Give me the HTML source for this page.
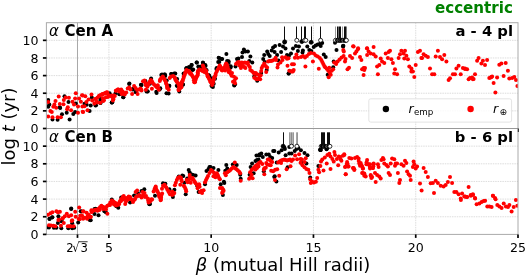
<!DOCTYPE html>
<html><head><meta charset="utf-8"><style>html,body{margin:0;padding:0;background:#fff;overflow:hidden}svg{display:block}</style></head>
<body><div id="w"><svg width="525" height="275" viewBox="0 0 525 275">
<rect width="525" height="275" fill="#fff"/><g>
<g stroke="#d9d9d9" stroke-width="0.9" stroke-dasharray="1.5,0.9"><line x1="108.91" y1="22.70" x2="108.91" y2="128.50"/><line x1="211.18" y1="22.70" x2="211.18" y2="128.50"/><line x1="313.45" y1="22.70" x2="313.45" y2="128.50"/><line x1="415.73" y1="22.70" x2="415.73" y2="128.50"/><line x1="46.40" y1="110.87" x2="518.00" y2="110.87"/><line x1="46.40" y1="93.23" x2="518.00" y2="93.23"/><line x1="46.40" y1="75.60" x2="518.00" y2="75.60"/><line x1="46.40" y1="57.97" x2="518.00" y2="57.97"/><line x1="46.40" y1="40.33" x2="518.00" y2="40.33"/><line x1="108.91" y1="128.50" x2="108.91" y2="234.40"/><line x1="211.18" y1="128.50" x2="211.18" y2="234.40"/><line x1="313.45" y1="128.50" x2="313.45" y2="234.40"/><line x1="415.73" y1="128.50" x2="415.73" y2="234.40"/><line x1="46.40" y1="216.75" x2="518.00" y2="216.75"/><line x1="46.40" y1="199.10" x2="518.00" y2="199.10"/><line x1="46.40" y1="181.45" x2="518.00" y2="181.45"/><line x1="46.40" y1="163.80" x2="518.00" y2="163.80"/><line x1="46.40" y1="146.15" x2="518.00" y2="146.15"/></g>
<line x1="77.49" y1="22.7" x2="77.49" y2="234.4" stroke="#a8a8a8" stroke-width="1"/>
<clipPath id="cA"><rect x="46.4" y="22.7" width="471.6" height="105.8"/></clipPath>
<g clip-path="url(#cA)">
<g fill="#000"><circle cx="64.5" cy="96.3" r="2.0"/><circle cx="48.2" cy="99.9" r="2.0"/><circle cx="68.5" cy="102.1" r="2.0"/><circle cx="49.3" cy="104.6" r="2.0"/><circle cx="75.8" cy="103.5" r="2.0"/><circle cx="48.2" cy="106.8" r="2.0"/><circle cx="59.8" cy="107.2" r="2.0"/><circle cx="60.2" cy="108.1" r="2.0"/><circle cx="66.7" cy="112.8" r="2.0"/><circle cx="62.0" cy="114.3" r="2.0"/><circle cx="73.3" cy="113.9" r="2.0"/><circle cx="75.1" cy="112.1" r="2.0"/><circle cx="52.5" cy="119.4" r="2.0"/><circle cx="57.6" cy="119.7" r="2.0"/><circle cx="69.6" cy="119.4" r="2.0"/><circle cx="91.8" cy="97.6" r="2.0"/><circle cx="84.5" cy="103.8" r="2.0"/><circle cx="109.6" cy="93.3" r="2.0"/><circle cx="115.5" cy="93.3" r="2.0"/><circle cx="111.8" cy="102.4" r="2.0"/><circle cx="100.5" cy="100.5" r="2.0"/><circle cx="100.5" cy="99.1" r="2.0"/><circle cx="89.6" cy="110.9" r="2.0"/><circle cx="95.5" cy="105.5" r="2.0"/><circle cx="90.7" cy="105.5" r="2.0"/><circle cx="86.7" cy="104.7" r="2.0"/><circle cx="100.5" cy="102.9" r="2.0"/><circle cx="111.8" cy="102.5" r="2.0"/><circle cx="119.5" cy="94.3" r="2.0"/><circle cx="123.4" cy="97.3" r="2.0"/><circle cx="129.4" cy="83.4" r="2.0"/><circle cx="132.8" cy="88.9" r="2.0"/><circle cx="135.8" cy="91.9" r="2.0"/><circle cx="141.2" cy="84.9" r="2.0"/><circle cx="147.7" cy="91.4" r="2.0"/><circle cx="149.7" cy="82.5" r="2.0"/><circle cx="151.1" cy="78.5" r="2.0"/><circle cx="156.6" cy="92.9" r="2.0"/><circle cx="159.6" cy="89.4" r="2.0"/><circle cx="166.5" cy="93.3" r="2.0"/><circle cx="162.0" cy="74.4" r="2.0"/><circle cx="165.0" cy="74.4" r="2.0"/><circle cx="168.9" cy="85.8" r="2.0"/><circle cx="171.4" cy="73.9" r="2.0"/><circle cx="175.3" cy="73.4" r="2.0"/><circle cx="176.8" cy="85.8" r="2.0"/><circle cx="182.8" cy="84.8" r="2.0"/><circle cx="183.8" cy="73.9" r="2.0"/><circle cx="186.2" cy="68.4" r="2.0"/><circle cx="190.7" cy="67.9" r="2.0"/><circle cx="191.7" cy="65.0" r="2.0"/><circle cx="193.2" cy="69.4" r="2.0"/><circle cx="196.6" cy="62.5" r="2.0"/><circle cx="198.6" cy="67.0" r="2.0"/><circle cx="201.1" cy="66.5" r="2.0"/><circle cx="203.1" cy="63.0" r="2.0"/><circle cx="205.5" cy="66.0" r="2.0"/><circle cx="206.5" cy="69.9" r="2.0"/><circle cx="208.5" cy="74.9" r="2.0"/><circle cx="211.5" cy="85.8" r="2.0"/><circle cx="205.0" cy="65.6" r="2.0"/><circle cx="212.1" cy="86.3" r="2.0"/><circle cx="216.4" cy="69.1" r="2.0"/><circle cx="218.6" cy="57.7" r="2.0"/><circle cx="221.4" cy="59.1" r="2.0"/><circle cx="219.3" cy="62.0" r="2.0"/><circle cx="226.4" cy="54.1" r="2.0"/><circle cx="228.6" cy="61.3" r="2.0"/><circle cx="230.7" cy="66.3" r="2.0"/><circle cx="234.3" cy="85.6" r="2.0"/><circle cx="343.2" cy="45.8" r="2.0"/><circle cx="343.0" cy="46.4" r="2.0"/><circle cx="288.7" cy="73.6" r="2.0"/><circle cx="288.6" cy="73.6" r="2.0"/><circle cx="168.6" cy="93.4" r="2.0"/><circle cx="169.3" cy="85.9" r="2.0"/><circle cx="179.3" cy="91.6" r="2.0"/><circle cx="182.9" cy="84.4" r="2.0"/><circle cx="195.0" cy="80.9" r="2.0"/><circle cx="212.9" cy="83.7" r="2.0"/><circle cx="212.9" cy="86.9" r="2.0"/><circle cx="215.0" cy="78.7" r="2.0"/><circle cx="234.3" cy="85.1" r="2.0"/><circle cx="96.0" cy="105.3" r="2.0"/><circle cx="100.4" cy="102.8" r="2.0"/><circle cx="100.9" cy="99.8" r="2.0"/><circle cx="109.9" cy="94.9" r="2.0"/><circle cx="112.3" cy="102.3" r="2.0"/><circle cx="119.3" cy="93.9" r="2.0"/><circle cx="123.2" cy="97.3" r="2.0"/><circle cx="129.2" cy="84.0" r="2.0"/><circle cx="132.6" cy="89.4" r="2.0"/><circle cx="135.6" cy="91.9" r="2.0"/><circle cx="141.5" cy="85.0" r="2.0"/><circle cx="146.5" cy="91.4" r="2.0"/><circle cx="141.0" cy="84.8" r="2.0"/><circle cx="145.4" cy="80.9" r="2.0"/><circle cx="147.4" cy="91.2" r="2.0"/><circle cx="149.9" cy="83.8" r="2.0"/><circle cx="156.3" cy="91.7" r="2.0"/><circle cx="160.3" cy="88.3" r="2.0"/><circle cx="161.3" cy="74.9" r="2.0"/><circle cx="164.3" cy="74.4" r="2.0"/><circle cx="165.2" cy="75.9" r="2.0"/><circle cx="166.7" cy="80.4" r="2.0"/><circle cx="169.2" cy="85.8" r="2.0"/><circle cx="171.2" cy="73.9" r="2.0"/><circle cx="174.2" cy="73.4" r="2.0"/><circle cx="177.1" cy="78.9" r="2.0"/><circle cx="178.1" cy="86.8" r="2.0"/><circle cx="182.6" cy="84.3" r="2.0"/><circle cx="183.6" cy="73.4" r="2.0"/><circle cx="186.5" cy="68.0" r="2.0"/><circle cx="189.0" cy="67.0" r="2.0"/><circle cx="191.5" cy="64.9" r="2.0"/><circle cx="190.0" cy="67.4" r="2.0"/><circle cx="192.5" cy="69.9" r="2.0"/><circle cx="196.9" cy="62.5" r="2.0"/><circle cx="198.4" cy="66.4" r="2.0"/><circle cx="202.9" cy="62.5" r="2.0"/><circle cx="205.3" cy="64.9" r="2.0"/><circle cx="200.9" cy="67.4" r="2.0"/><circle cx="206.3" cy="70.4" r="2.0"/><circle cx="209.3" cy="75.8" r="2.0"/><circle cx="211.8" cy="78.3" r="2.0"/><circle cx="213.7" cy="83.7" r="2.0"/><circle cx="216.7" cy="67.9" r="2.0"/><circle cx="218.2" cy="62.0" r="2.0"/><circle cx="219.2" cy="58.0" r="2.0"/><circle cx="222.2" cy="59.0" r="2.0"/><circle cx="227.1" cy="61.0" r="2.0"/><circle cx="228.6" cy="63.0" r="2.0"/><circle cx="230.6" cy="67.4" r="2.0"/><circle cx="343.3" cy="46.0" r="2.0"/><circle cx="243.9" cy="49.4" r="2.0"/><circle cx="242.5" cy="52.4" r="2.0"/><circle cx="245.4" cy="51.4" r="2.0"/><circle cx="247.9" cy="51.4" r="2.0"/><circle cx="242.0" cy="56.9" r="2.0"/><circle cx="250.4" cy="56.4" r="2.0"/><circle cx="264.2" cy="54.9" r="2.0"/><circle cx="267.2" cy="51.4" r="2.0"/><circle cx="268.2" cy="53.9" r="2.0"/><circle cx="269.7" cy="55.9" r="2.0"/><circle cx="271.7" cy="50.4" r="2.0"/><circle cx="273.1" cy="47.4" r="2.0"/><circle cx="275.1" cy="46.0" r="2.0"/><circle cx="274.6" cy="51.9" r="2.0"/><circle cx="277.1" cy="54.9" r="2.0"/><circle cx="279.6" cy="45.0" r="2.0"/><circle cx="281.1" cy="51.9" r="2.0"/><circle cx="283.0" cy="46.5" r="2.0"/><circle cx="285.5" cy="48.4" r="2.0"/><circle cx="284.5" cy="42.5" r="2.0"/><circle cx="287.0" cy="54.9" r="2.0"/><circle cx="293.0" cy="48.4" r="2.0"/><circle cx="295.9" cy="45.9" r="2.0"/><circle cx="298.9" cy="46.4" r="2.0"/><circle cx="297.9" cy="50.9" r="2.0"/><circle cx="302.9" cy="50.4" r="2.0"/><circle cx="307.3" cy="46.4" r="2.0"/><circle cx="309.3" cy="49.9" r="2.0"/><circle cx="311.3" cy="50.9" r="2.0"/><circle cx="313.7" cy="46.9" r="2.0"/><circle cx="315.7" cy="45.4" r="2.0"/><circle cx="317.7" cy="44.5" r="2.0"/><circle cx="319.7" cy="44.0" r="2.0"/><circle cx="322.2" cy="43.0" r="2.0"/><circle cx="320.7" cy="45.9" r="2.0"/><circle cx="291.0" cy="53.4" r="2.0"/><circle cx="289.0" cy="55.8" r="2.0"/><circle cx="336.5" cy="49.9" r="2.0"/><circle cx="335.0" cy="42.8" r="2.0"/><circle cx="323.8" cy="54.5" r="2.0"/><circle cx="325.7" cy="57.0" r="2.0"/><circle cx="333.2" cy="67.3" r="2.0"/><circle cx="327.7" cy="74.8" r="2.0"/><circle cx="333.7" cy="61.4" r="2.0"/><circle cx="302.5" cy="52.5" r="2.0"/><circle cx="237.0" cy="59.0" r="2.0"/><circle cx="238.4" cy="58.5" r="2.0"/><circle cx="249.3" cy="61.0" r="2.0"/><circle cx="252.3" cy="62.5" r="2.0"/><circle cx="235.5" cy="66.4" r="2.0"/><circle cx="263.2" cy="59.0" r="2.0"/><circle cx="264.7" cy="62.0" r="2.0"/><circle cx="266.7" cy="69.9" r="2.0"/><circle cx="261.2" cy="72.9" r="2.0"/><circle cx="254.3" cy="76.3" r="2.0"/><circle cx="257.2" cy="80.8" r="2.0"/><circle cx="278.5" cy="60.5" r="2.0"/><circle cx="235.0" cy="84.2" r="2.0"/></g>
<g fill="#f00"><circle cx="75.8" cy="93.2" r="2.0"/><circle cx="58.7" cy="96.5" r="2.0"/><circle cx="65.6" cy="97.4" r="2.0"/><circle cx="68.9" cy="97.7" r="2.0"/><circle cx="75.1" cy="98.5" r="2.0"/><circle cx="79.1" cy="98.5" r="2.0"/><circle cx="82.0" cy="95.2" r="2.0"/><circle cx="48.2" cy="102.1" r="2.0"/><circle cx="55.5" cy="101.0" r="2.0"/><circle cx="63.8" cy="99.9" r="2.0"/><circle cx="72.5" cy="101.7" r="2.0"/><circle cx="80.9" cy="101.7" r="2.0"/><circle cx="59.8" cy="103.9" r="2.0"/><circle cx="63.5" cy="104.3" r="2.0"/><circle cx="54.4" cy="104.6" r="2.0"/><circle cx="74.0" cy="104.6" r="2.0"/><circle cx="53.3" cy="106.8" r="2.0"/><circle cx="67.8" cy="107.2" r="2.0"/><circle cx="78.0" cy="106.5" r="2.0"/><circle cx="82.4" cy="106.5" r="2.0"/><circle cx="56.2" cy="107.7" r="2.0"/><circle cx="67.1" cy="109.2" r="2.0"/><circle cx="71.1" cy="110.3" r="2.0"/><circle cx="50.4" cy="111.0" r="2.0"/><circle cx="51.8" cy="112.1" r="2.0"/><circle cx="78.0" cy="112.8" r="2.0"/><circle cx="82.7" cy="111.7" r="2.0"/><circle cx="48.2" cy="116.5" r="2.0"/><circle cx="52.5" cy="117.2" r="2.0"/><circle cx="57.6" cy="117.2" r="2.0"/><circle cx="60.9" cy="117.2" r="2.0"/><circle cx="82.7" cy="95.5" r="2.0"/><circle cx="85.3" cy="96.2" r="2.0"/><circle cx="91.5" cy="94.4" r="2.0"/><circle cx="88.5" cy="99.5" r="2.0"/><circle cx="86.4" cy="102.0" r="2.0"/><circle cx="92.2" cy="100.5" r="2.0"/><circle cx="95.1" cy="99.1" r="2.0"/><circle cx="97.6" cy="97.6" r="2.0"/><circle cx="99.5" cy="95.5" r="2.0"/><circle cx="102.4" cy="94.0" r="2.0"/><circle cx="105.3" cy="92.9" r="2.0"/><circle cx="107.1" cy="92.2" r="2.0"/><circle cx="108.9" cy="95.5" r="2.0"/><circle cx="111.8" cy="95.5" r="2.0"/><circle cx="114.0" cy="95.5" r="2.0"/><circle cx="113.3" cy="98.7" r="2.0"/><circle cx="115.8" cy="90.7" r="2.0"/><circle cx="118.4" cy="89.6" r="2.0"/><circle cx="103.5" cy="100.5" r="2.0"/><circle cx="100.2" cy="102.7" r="2.0"/><circle cx="94.4" cy="103.5" r="2.0"/><circle cx="97.3" cy="102.4" r="2.0"/><circle cx="84.5" cy="106.2" r="2.0"/><circle cx="87.5" cy="110.2" r="2.0"/><circle cx="83.1" cy="112.0" r="2.0"/><circle cx="103.1" cy="101.1" r="2.0"/><circle cx="112.9" cy="100.4" r="2.0"/><circle cx="353.1" cy="46.3" r="2.0"/><circle cx="358.1" cy="48.2" r="2.0"/><circle cx="367.0" cy="48.2" r="2.0"/><circle cx="167.1" cy="88.0" r="2.0"/><circle cx="194.3" cy="82.3" r="2.0"/><circle cx="212.1" cy="85.1" r="2.0"/><circle cx="210.7" cy="82.3" r="2.0"/><circle cx="353.6" cy="46.4" r="2.0"/><circle cx="357.9" cy="49.3" r="2.0"/><circle cx="356.4" cy="51.4" r="2.0"/><circle cx="355.0" cy="53.6" r="2.0"/><circle cx="352.1" cy="57.9" r="2.0"/><circle cx="360.0" cy="57.1" r="2.0"/><circle cx="361.4" cy="60.0" r="2.0"/><circle cx="363.6" cy="67.9" r="2.0"/><circle cx="362.1" cy="69.3" r="2.0"/><circle cx="365.0" cy="67.9" r="2.0"/><circle cx="364.3" cy="70.0" r="2.0"/><circle cx="363.6" cy="75.0" r="2.0"/><circle cx="367.1" cy="48.6" r="2.0"/><circle cx="368.6" cy="51.4" r="2.0"/><circle cx="367.1" cy="55.0" r="2.0"/><circle cx="370.7" cy="53.6" r="2.0"/><circle cx="373.6" cy="47.1" r="2.0"/><circle cx="373.6" cy="54.3" r="2.0"/><circle cx="375.7" cy="56.4" r="2.0"/><circle cx="377.9" cy="74.3" r="2.0"/><circle cx="380.7" cy="58.6" r="2.0"/><circle cx="382.1" cy="61.4" r="2.0"/><circle cx="377.1" cy="66.4" r="2.0"/><circle cx="379.3" cy="65.0" r="2.0"/><circle cx="384.3" cy="62.9" r="2.0"/><circle cx="385.7" cy="53.6" r="2.0"/><circle cx="387.9" cy="57.9" r="2.0"/><circle cx="390.0" cy="50.7" r="2.0"/><circle cx="388.6" cy="52.1" r="2.0"/><circle cx="391.4" cy="59.3" r="2.0"/><circle cx="392.9" cy="62.9" r="2.0"/><circle cx="395.0" cy="69.3" r="2.0"/><circle cx="394.3" cy="73.6" r="2.0"/><circle cx="397.1" cy="74.3" r="2.0"/><circle cx="398.6" cy="57.9" r="2.0"/><circle cx="400.0" cy="54.3" r="2.0"/><circle cx="401.4" cy="50.7" r="2.0"/><circle cx="405.0" cy="50.7" r="2.0"/><circle cx="403.6" cy="53.6" r="2.0"/><circle cx="406.4" cy="55.7" r="2.0"/><circle cx="404.3" cy="58.6" r="2.0"/><circle cx="407.9" cy="59.3" r="2.0"/><circle cx="409.3" cy="66.4" r="2.0"/><circle cx="411.4" cy="68.6" r="2.0"/><circle cx="412.9" cy="71.4" r="2.0"/><circle cx="415.7" cy="65.0" r="2.0"/><circle cx="414.3" cy="77.1" r="2.0"/><circle cx="417.9" cy="52.1" r="2.0"/><circle cx="420.0" cy="50.7" r="2.0"/><circle cx="421.4" cy="57.9" r="2.0"/><circle cx="423.6" cy="54.3" r="2.0"/><circle cx="425.7" cy="55.7" r="2.0"/><circle cx="427.9" cy="57.1" r="2.0"/><circle cx="422.1" cy="57.9" r="2.0"/><circle cx="437.9" cy="50.7" r="2.0"/><circle cx="435.7" cy="56.4" r="2.0"/><circle cx="440.0" cy="57.1" r="2.0"/><circle cx="442.1" cy="59.3" r="2.0"/><circle cx="444.3" cy="55.0" r="2.0"/><circle cx="446.4" cy="61.4" r="2.0"/><circle cx="430.0" cy="68.6" r="2.0"/><circle cx="432.1" cy="74.3" r="2.0"/><circle cx="434.3" cy="74.3" r="2.0"/><circle cx="458.6" cy="65.7" r="2.0"/><circle cx="456.4" cy="68.6" r="2.0"/><circle cx="462.9" cy="67.9" r="2.0"/><circle cx="465.0" cy="68.6" r="2.0"/><circle cx="467.1" cy="69.3" r="2.0"/><circle cx="452.9" cy="74.3" r="2.0"/><circle cx="455.0" cy="74.3" r="2.0"/><circle cx="450.0" cy="78.3" r="2.0"/><circle cx="460.7" cy="74.3" r="2.0"/><circle cx="475.0" cy="74.3" r="2.0"/><circle cx="470.0" cy="77.9" r="2.0"/><circle cx="472.1" cy="77.4" r="2.0"/><circle cx="478.6" cy="57.9" r="2.0"/><circle cx="477.1" cy="60.7" r="2.0"/><circle cx="482.9" cy="60.7" r="2.0"/><circle cx="481.4" cy="63.6" r="2.0"/><circle cx="485.0" cy="65.0" r="2.0"/><circle cx="487.1" cy="60.0" r="2.0"/><circle cx="490.7" cy="77.4" r="2.0"/><circle cx="492.1" cy="76.4" r="2.0"/><circle cx="465.0" cy="68.9" r="2.0"/><circle cx="468.6" cy="79.3" r="2.0"/><circle cx="472.9" cy="79.3" r="2.0"/><circle cx="499.3" cy="64.7" r="2.0"/><circle cx="501.4" cy="63.6" r="2.0"/><circle cx="505.7" cy="62.9" r="2.0"/><circle cx="507.9" cy="70.7" r="2.0"/><circle cx="489.3" cy="77.9" r="2.0"/><circle cx="491.4" cy="77.1" r="2.0"/><circle cx="493.6" cy="82.9" r="2.0"/><circle cx="497.1" cy="77.6" r="2.0"/><circle cx="503.6" cy="76.1" r="2.0"/><circle cx="509.3" cy="78.6" r="2.0"/><circle cx="512.1" cy="77.9" r="2.0"/><circle cx="514.3" cy="77.1" r="2.0"/><circle cx="516.0" cy="80.0" r="2.0"/><circle cx="517.4" cy="86.1" r="2.0"/><circle cx="495.4" cy="92.4" r="2.0"/><circle cx="411.4" cy="71.4" r="2.0"/><circle cx="448.6" cy="79.9" r="2.0"/><circle cx="473.6" cy="79.1" r="2.0"/><circle cx="96.0" cy="98.8" r="2.0"/><circle cx="96.5" cy="101.8" r="2.0"/><circle cx="99.0" cy="95.9" r="2.0"/><circle cx="100.9" cy="94.9" r="2.0"/><circle cx="102.4" cy="94.4" r="2.0"/><circle cx="104.4" cy="93.4" r="2.0"/><circle cx="106.4" cy="92.4" r="2.0"/><circle cx="107.4" cy="93.4" r="2.0"/><circle cx="102.9" cy="98.3" r="2.0"/><circle cx="103.9" cy="100.3" r="2.0"/><circle cx="105.9" cy="97.3" r="2.0"/><circle cx="107.9" cy="96.9" r="2.0"/><circle cx="110.3" cy="95.9" r="2.0"/><circle cx="112.3" cy="96.9" r="2.0"/><circle cx="113.3" cy="99.3" r="2.0"/><circle cx="114.8" cy="95.9" r="2.0"/><circle cx="116.3" cy="90.4" r="2.0"/><circle cx="117.8" cy="89.4" r="2.0"/><circle cx="119.3" cy="91.4" r="2.0"/><circle cx="121.2" cy="89.4" r="2.0"/><circle cx="122.7" cy="91.4" r="2.0"/><circle cx="123.7" cy="92.9" r="2.0"/><circle cx="121.7" cy="93.9" r="2.0"/><circle cx="124.7" cy="94.4" r="2.0"/><circle cx="126.2" cy="92.4" r="2.0"/><circle cx="127.7" cy="88.4" r="2.0"/><circle cx="129.2" cy="87.4" r="2.0"/><circle cx="130.6" cy="89.4" r="2.0"/><circle cx="132.1" cy="93.9" r="2.0"/><circle cx="134.1" cy="86.0" r="2.0"/><circle cx="135.6" cy="87.9" r="2.0"/><circle cx="137.1" cy="89.9" r="2.0"/><circle cx="137.6" cy="93.9" r="2.0"/><circle cx="139.1" cy="89.4" r="2.0"/><circle cx="140.5" cy="88.4" r="2.0"/><circle cx="141.5" cy="90.4" r="2.0"/><circle cx="157.8" cy="85.3" r="2.0"/><circle cx="141.0" cy="89.3" r="2.0"/><circle cx="145.9" cy="89.8" r="2.0"/><circle cx="151.9" cy="88.8" r="2.0"/><circle cx="343.3" cy="49.9" r="2.0"/><circle cx="343.8" cy="51.4" r="2.0"/><circle cx="275.6" cy="57.8" r="2.0"/><circle cx="282.1" cy="57.3" r="2.0"/><circle cx="285.5" cy="57.3" r="2.0"/><circle cx="287.0" cy="58.8" r="2.0"/><circle cx="287.5" cy="65.8" r="2.0"/><circle cx="296.4" cy="54.4" r="2.0"/><circle cx="294.9" cy="57.8" r="2.0"/><circle cx="297.9" cy="57.8" r="2.0"/><circle cx="288.5" cy="58.3" r="2.0"/><circle cx="292.0" cy="64.3" r="2.0"/><circle cx="293.9" cy="64.3" r="2.0"/><circle cx="220.7" cy="67.9" r="2.0"/><circle cx="222.2" cy="70.4" r="2.0"/><circle cx="223.6" cy="68.9" r="2.0"/><circle cx="225.6" cy="66.9" r="2.0"/><circle cx="225.1" cy="70.4" r="2.0"/><circle cx="227.6" cy="68.9" r="2.0"/><circle cx="228.6" cy="71.9" r="2.0"/><circle cx="229.6" cy="70.4" r="2.0"/><circle cx="301.0" cy="57.0" r="2.0"/><circle cx="303.0" cy="56.0" r="2.0"/><circle cx="305.0" cy="57.4" r="2.0"/><circle cx="306.9" cy="56.0" r="2.0"/><circle cx="308.9" cy="54.0" r="2.0"/><circle cx="310.9" cy="53.0" r="2.0"/><circle cx="313.9" cy="53.5" r="2.0"/><circle cx="315.8" cy="55.5" r="2.0"/><circle cx="317.8" cy="56.5" r="2.0"/><circle cx="319.8" cy="57.9" r="2.0"/><circle cx="321.3" cy="59.9" r="2.0"/><circle cx="322.3" cy="61.9" r="2.0"/><circle cx="323.3" cy="63.9" r="2.0"/><circle cx="324.3" cy="65.9" r="2.0"/><circle cx="325.2" cy="67.3" r="2.0"/><circle cx="326.7" cy="68.8" r="2.0"/><circle cx="329.2" cy="67.8" r="2.0"/><circle cx="328.2" cy="70.8" r="2.0"/><circle cx="329.7" cy="72.8" r="2.0"/><circle cx="331.7" cy="70.8" r="2.0"/><circle cx="333.2" cy="69.3" r="2.0"/><circle cx="330.7" cy="74.8" r="2.0"/><circle cx="328.7" cy="77.2" r="2.0"/><circle cx="312.9" cy="61.4" r="2.0"/><circle cx="305.4" cy="66.4" r="2.0"/><circle cx="318.8" cy="68.8" r="2.0"/><circle cx="334.2" cy="62.4" r="2.0"/><circle cx="336.1" cy="63.9" r="2.0"/><circle cx="337.6" cy="61.4" r="2.0"/><circle cx="339.6" cy="59.4" r="2.0"/><circle cx="341.6" cy="57.4" r="2.0"/><circle cx="343.6" cy="56.0" r="2.0"/><circle cx="345.5" cy="58.9" r="2.0"/><circle cx="345.0" cy="61.4" r="2.0"/><circle cx="347.5" cy="69.3" r="2.0"/><circle cx="349.0" cy="67.8" r="2.0"/><circle cx="350.0" cy="56.0" r="2.0"/><circle cx="236.0" cy="63.9" r="2.0"/><circle cx="237.4" cy="62.5" r="2.0"/><circle cx="238.9" cy="62.0" r="2.0"/><circle cx="240.4" cy="63.4" r="2.0"/><circle cx="241.9" cy="62.5" r="2.0"/><circle cx="243.4" cy="63.0" r="2.0"/><circle cx="244.9" cy="62.5" r="2.0"/><circle cx="246.4" cy="63.0" r="2.0"/><circle cx="247.8" cy="62.5" r="2.0"/><circle cx="239.4" cy="65.4" r="2.0"/><circle cx="240.9" cy="67.9" r="2.0"/><circle cx="242.4" cy="65.9" r="2.0"/><circle cx="244.4" cy="66.9" r="2.0"/><circle cx="245.4" cy="67.9" r="2.0"/><circle cx="248.3" cy="64.9" r="2.0"/><circle cx="249.8" cy="66.9" r="2.0"/><circle cx="250.3" cy="69.9" r="2.0"/><circle cx="251.8" cy="70.9" r="2.0"/><circle cx="253.3" cy="72.4" r="2.0"/><circle cx="254.3" cy="73.8" r="2.0"/><circle cx="255.8" cy="72.9" r="2.0"/><circle cx="256.8" cy="74.3" r="2.0"/><circle cx="258.2" cy="74.8" r="2.0"/><circle cx="259.7" cy="75.8" r="2.0"/><circle cx="260.7" cy="75.3" r="2.0"/><circle cx="254.3" cy="77.8" r="2.0"/><circle cx="255.8" cy="78.8" r="2.0"/><circle cx="257.2" cy="79.3" r="2.0"/><circle cx="258.7" cy="78.8" r="2.0"/><circle cx="260.2" cy="79.3" r="2.0"/><circle cx="261.2" cy="70.9" r="2.0"/><circle cx="261.7" cy="67.9" r="2.0"/><circle cx="262.7" cy="65.9" r="2.0"/><circle cx="264.2" cy="63.4" r="2.0"/><circle cx="265.7" cy="65.9" r="2.0"/><circle cx="267.1" cy="67.4" r="2.0"/><circle cx="266.2" cy="71.9" r="2.0"/><circle cx="268.1" cy="61.5" r="2.0"/><circle cx="269.6" cy="61.0" r="2.0"/><circle cx="271.1" cy="61.0" r="2.0"/><circle cx="272.6" cy="60.5" r="2.0"/><circle cx="274.6" cy="59.5" r="2.0"/><circle cx="276.1" cy="60.0" r="2.0"/><circle cx="278.0" cy="64.4" r="2.0"/><circle cx="277.5" cy="67.4" r="2.0"/><circle cx="280.5" cy="62.5" r="2.0"/><circle cx="282.5" cy="60.0" r="2.0"/><circle cx="232.0" cy="72.9" r="2.0"/><circle cx="234.0" cy="76.8" r="2.0"/><circle cx="236.0" cy="78.3" r="2.0"/><circle cx="234.5" cy="80.8" r="2.0"/><circle cx="235.0" cy="83.2" r="2.0"/><circle cx="233.0" cy="81.8" r="2.0"/><circle cx="143.0" cy="81.2" r="2.0"/><circle cx="144.5" cy="80.6" r="2.0"/><circle cx="145.3" cy="83.0" r="2.0"/><circle cx="145.9" cy="85.3" r="2.0"/><circle cx="147.4" cy="86.8" r="2.0"/><circle cx="148.4" cy="84.8" r="2.0"/><circle cx="148.8" cy="83.3" r="2.0"/><circle cx="149.4" cy="82.3" r="2.0"/><circle cx="150.3" cy="80.8" r="2.0"/><circle cx="150.9" cy="79.9" r="2.0"/><circle cx="151.7" cy="81.0" r="2.0"/><circle cx="152.4" cy="82.3" r="2.0"/><circle cx="153.9" cy="84.3" r="2.0"/><circle cx="155.3" cy="85.8" r="2.0"/><circle cx="156.8" cy="87.3" r="2.0"/><circle cx="158.3" cy="88.3" r="2.0"/><circle cx="158.8" cy="89.8" r="2.0"/><circle cx="159.8" cy="80.9" r="2.0"/><circle cx="160.2" cy="79.4" r="2.0"/><circle cx="161.3" cy="77.9" r="2.0"/><circle cx="162.8" cy="76.4" r="2.0"/><circle cx="163.2" cy="77.6" r="2.0"/><circle cx="164.3" cy="78.9" r="2.0"/><circle cx="164.7" cy="80.0" r="2.0"/><circle cx="165.7" cy="81.8" r="2.0"/><circle cx="166.1" cy="83.6" r="2.0"/><circle cx="166.7" cy="84.8" r="2.0"/><circle cx="166.9" cy="86.1" r="2.0"/><circle cx="167.7" cy="87.8" r="2.0"/><circle cx="168.7" cy="89.8" r="2.0"/><circle cx="169.7" cy="77.9" r="2.0"/><circle cx="171.2" cy="76.4" r="2.0"/><circle cx="173.2" cy="75.9" r="2.0"/><circle cx="174.7" cy="77.4" r="2.0"/><circle cx="175.3" cy="79.0" r="2.0"/><circle cx="175.6" cy="79.9" r="2.0"/><circle cx="176.4" cy="81.0" r="2.0"/><circle cx="177.1" cy="82.3" r="2.0"/><circle cx="178.2" cy="83.2" r="2.0"/><circle cx="178.6" cy="84.8" r="2.0"/><circle cx="179.1" cy="87.3" r="2.0"/><circle cx="178.6" cy="89.8" r="2.0"/><circle cx="180.6" cy="86.8" r="2.0"/><circle cx="181.4" cy="85.1" r="2.0"/><circle cx="181.6" cy="83.8" r="2.0"/><circle cx="181.8" cy="82.0" r="2.0"/><circle cx="182.6" cy="80.9" r="2.0"/><circle cx="182.9" cy="79.7" r="2.0"/><circle cx="183.6" cy="77.9" r="2.0"/><circle cx="183.8" cy="76.5" r="2.0"/><circle cx="184.6" cy="74.9" r="2.0"/><circle cx="185.2" cy="73.3" r="2.0"/><circle cx="185.5" cy="71.9" r="2.0"/><circle cx="186.5" cy="70.0" r="2.0"/><circle cx="188.5" cy="71.4" r="2.0"/><circle cx="189.5" cy="72.9" r="2.0"/><circle cx="191.0" cy="73.9" r="2.0"/><circle cx="178.6" cy="90.1" r="2.0"/><circle cx="180.0" cy="88.4" r="2.0"/><circle cx="181.4" cy="87.3" r="2.0"/><circle cx="189.0" cy="70.9" r="2.0"/><circle cx="190.5" cy="72.9" r="2.0"/><circle cx="190.9" cy="73.9" r="2.0"/><circle cx="192.0" cy="75.3" r="2.0"/><circle cx="192.8" cy="76.5" r="2.0"/><circle cx="193.4" cy="77.8" r="2.0"/><circle cx="193.9" cy="80.3" r="2.0"/><circle cx="194.9" cy="82.3" r="2.0"/><circle cx="195.3" cy="80.6" r="2.0"/><circle cx="195.9" cy="78.8" r="2.0"/><circle cx="196.4" cy="77.4" r="2.0"/><circle cx="196.9" cy="76.3" r="2.0"/><circle cx="197.6" cy="75.2" r="2.0"/><circle cx="197.9" cy="73.8" r="2.0"/><circle cx="197.7" cy="72.4" r="2.0"/><circle cx="197.9" cy="70.9" r="2.0"/><circle cx="199.4" cy="69.4" r="2.0"/><circle cx="200.9" cy="69.9" r="2.0"/><circle cx="202.4" cy="70.9" r="2.0"/><circle cx="202.9" cy="65.4" r="2.0"/><circle cx="203.4" cy="67.0" r="2.0"/><circle cx="203.8" cy="67.9" r="2.0"/><circle cx="204.2" cy="69.7" r="2.0"/><circle cx="204.3" cy="71.9" r="2.0"/><circle cx="205.3" cy="69.9" r="2.0"/><circle cx="206.2" cy="71.1" r="2.0"/><circle cx="206.3" cy="72.9" r="2.0"/><circle cx="207.3" cy="74.8" r="2.0"/><circle cx="207.7" cy="76.3" r="2.0"/><circle cx="208.3" cy="77.3" r="2.0"/><circle cx="209.3" cy="79.3" r="2.0"/><circle cx="210.3" cy="81.3" r="2.0"/><circle cx="211.8" cy="81.3" r="2.0"/><circle cx="212.8" cy="83.2" r="2.0"/><circle cx="213.0" cy="81.2" r="2.0"/><circle cx="213.7" cy="79.3" r="2.0"/><circle cx="213.8" cy="78.2" r="2.0"/><circle cx="214.7" cy="76.8" r="2.0"/><circle cx="215.4" cy="75.4" r="2.0"/><circle cx="215.7" cy="73.8" r="2.0"/><circle cx="216.7" cy="71.4" r="2.0"/><circle cx="217.7" cy="69.4" r="2.0"/><circle cx="218.8" cy="68.0" r="2.0"/><circle cx="219.2" cy="66.9" r="2.0"/><circle cx="219.7" cy="65.4" r="2.0"/><circle cx="220.4" cy="66.7" r="2.0"/><circle cx="220.7" cy="67.9" r="2.0"/><circle cx="221.7" cy="69.9" r="2.0"/><circle cx="222.7" cy="68.9" r="2.0"/><circle cx="223.6" cy="67.9" r="2.0"/><circle cx="225.1" cy="65.9" r="2.0"/><circle cx="225.7" cy="64.6" r="2.0"/><circle cx="226.1" cy="63.4" r="2.0"/><circle cx="227.1" cy="64.9" r="2.0"/><circle cx="227.6" cy="66.8" r="2.0"/><circle cx="227.6" cy="67.9" r="2.0"/><circle cx="228.6" cy="69.9" r="2.0"/><circle cx="229.6" cy="71.9" r="2.0"/><circle cx="230.6" cy="73.8" r="2.0"/><circle cx="231.6" cy="75.8" r="2.0"/><circle cx="293.7" cy="70.0" r="2.0"/><circle cx="291.6" cy="71.4" r="2.0"/><circle cx="289.3" cy="70.7" r="2.0"/><circle cx="291.1" cy="71.2" r="2.0"/><circle cx="292.9" cy="71.4" r="2.0"/></g>
<line x1="284.5" y1="41.8" x2="284.5" y2="26.5" stroke="#000" stroke-width="0.95"/><line x1="296.5" y1="40.3" x2="296.5" y2="26.5" stroke="#000" stroke-width="0.95"/><line x1="301.5" y1="41.6" x2="301.5" y2="26.5" stroke="#000" stroke-width="0.95"/><line x1="304.5" y1="40.3" x2="304.5" y2="26.5" stroke="#000" stroke-width="0.95"/><line x1="305.5" y1="40.3" x2="305.5" y2="26.5" stroke="#000" stroke-width="0.95"/><line x1="311.5" y1="42.3" x2="311.5" y2="26.5" stroke="#000" stroke-width="0.95"/><line x1="320.5" y1="40.3" x2="320.5" y2="26.5" stroke="#000" stroke-width="0.95"/><line x1="335.5" y1="40.3" x2="335.5" y2="26.5" stroke="#888" stroke-width="0.85"/><line x1="337.5" y1="40.3" x2="337.5" y2="26.5" stroke="#000" stroke-width="0.95"/><line x1="338.5" y1="40.3" x2="338.5" y2="26.5" stroke="#333" stroke-width="0.76"/><line x1="339.5" y1="40.3" x2="339.5" y2="26.5" stroke="#000" stroke-width="0.95"/><line x1="340.5" y1="40.3" x2="340.5" y2="26.5" stroke="#000" stroke-width="0.95"/><line x1="342.5" y1="40.3" x2="342.5" y2="26.5" stroke="#888" stroke-width="0.85"/><line x1="344.5" y1="40.3" x2="344.5" y2="26.5" stroke="#000" stroke-width="0.95"/><line x1="345.5" y1="40.3" x2="345.5" y2="26.5" stroke="#000" stroke-width="0.95"/><line x1="346.3" y1="40.3" x2="346.3" y2="26.5" stroke="#222" stroke-width="0.76"/><circle cx="284.7" cy="41.8" r="2.0" fill="#000" stroke="#000" stroke-width="0.8"/><circle cx="296.8" cy="40.3" r="2.0" fill="#fff" stroke="#000" stroke-width="0.8"/><circle cx="301.8" cy="41.6" r="2.0" fill="#000" stroke="#000" stroke-width="0.8"/><circle cx="304.6" cy="40.3" r="2.0" fill="#fff" stroke="#000" stroke-width="0.8"/><circle cx="305.8" cy="40.3" r="2.0" fill="#fff" stroke="#000" stroke-width="0.8"/><circle cx="311.2" cy="42.3" r="2.0" fill="#000" stroke="#000" stroke-width="0.8"/><circle cx="320.6" cy="40.3" r="2.0" fill="#fff" stroke="#000" stroke-width="0.8"/><circle cx="335.5" cy="40.3" r="2.0" fill="#fff" stroke="#000" stroke-width="0.8"/><circle cx="337.4" cy="40.3" r="2.0" fill="#000" stroke="#000" stroke-width="0.8"/><circle cx="338.6" cy="40.3" r="2.0" fill="#fff" stroke="#000" stroke-width="0.8"/><circle cx="339.6" cy="40.3" r="2.0" fill="#000" stroke="#000" stroke-width="0.8"/><circle cx="340.6" cy="40.3" r="2.0" fill="#fff" stroke="#000" stroke-width="0.8"/><circle cx="341.4" cy="40.3" r="2.0" fill="#000" stroke="#000" stroke-width="0.8"/><circle cx="343.4" cy="40.3" r="2.0" fill="#fff" stroke="#000" stroke-width="0.8"/><circle cx="344.6" cy="40.3" r="2.0" fill="#000" stroke="#000" stroke-width="0.8"/><circle cx="345.8" cy="40.3" r="2.0" fill="#000" stroke="#000" stroke-width="0.8"/><circle cx="346.4" cy="40.3" r="2.0" fill="#fff" stroke="#000" stroke-width="0.8"/>
</g>
<clipPath id="cB"><rect x="46.4" y="128.5" width="471.6" height="105.9"/></clipPath>
<g clip-path="url(#cB)">
<g fill="#000"><circle cx="49.5" cy="218.8" r="2.0"/><circle cx="52.4" cy="217.3" r="2.0"/><circle cx="58.4" cy="216.3" r="2.0"/><circle cx="71.2" cy="208.9" r="2.0"/><circle cx="80.7" cy="211.3" r="2.0"/><circle cx="94.5" cy="208.9" r="2.0"/><circle cx="89.6" cy="219.8" r="2.0"/><circle cx="61.8" cy="221.2" r="2.0"/><circle cx="49.5" cy="218.9" r="2.0"/><circle cx="52.0" cy="217.4" r="2.0"/><circle cx="57.9" cy="222.9" r="2.0"/><circle cx="61.3" cy="220.9" r="2.0"/><circle cx="47.5" cy="227.3" r="2.0"/><circle cx="53.9" cy="227.8" r="2.0"/><circle cx="56.4" cy="227.8" r="2.0"/><circle cx="61.3" cy="228.3" r="2.0"/><circle cx="68.3" cy="228.3" r="2.0"/><circle cx="72.2" cy="228.3" r="2.0"/><circle cx="74.2" cy="227.8" r="2.0"/><circle cx="72.2" cy="223.3" r="2.0"/><circle cx="71.2" cy="208.5" r="2.0"/><circle cx="78.2" cy="222.4" r="2.0"/><circle cx="81.6" cy="211.5" r="2.0"/><circle cx="90.1" cy="219.9" r="2.0"/><circle cx="94.5" cy="213.9" r="2.0"/><circle cx="49.0" cy="227.5" r="2.0"/><circle cx="144.3" cy="189.3" r="2.0"/><circle cx="149.3" cy="204.3" r="2.0"/><circle cx="155.0" cy="195.7" r="2.0"/><circle cx="160.0" cy="195.7" r="2.0"/><circle cx="172.9" cy="197.1" r="2.0"/><circle cx="185.7" cy="194.3" r="2.0"/><circle cx="198.6" cy="192.1" r="2.0"/><circle cx="220.7" cy="184.3" r="2.0"/><circle cx="224.3" cy="182.9" r="2.0"/><circle cx="222.9" cy="195.0" r="2.0"/><circle cx="274.3" cy="177.1" r="2.0"/><circle cx="276.4" cy="181.4" r="2.0"/><circle cx="320.6" cy="149.8" r="2.0"/><circle cx="326.5" cy="149.3" r="2.0"/><circle cx="320.0" cy="149.8" r="2.0"/><circle cx="326.9" cy="148.8" r="2.0"/><circle cx="320.7" cy="150.0" r="2.0"/><circle cx="90.7" cy="220.3" r="2.0"/><circle cx="150.0" cy="203.9" r="2.0"/><circle cx="301.3" cy="162.7" r="2.0"/><circle cx="306.4" cy="163.4" r="2.0"/><circle cx="318.4" cy="165.9" r="2.0"/><circle cx="310.2" cy="177.4" r="2.0"/><circle cx="320.4" cy="150.0" r="2.0"/><circle cx="259.4" cy="154.5" r="2.0"/><circle cx="261.3" cy="153.5" r="2.0"/><circle cx="262.8" cy="156.9" r="2.0"/><circle cx="266.3" cy="154.5" r="2.0"/><circle cx="268.8" cy="154.5" r="2.0"/><circle cx="270.2" cy="156.9" r="2.0"/><circle cx="272.2" cy="157.9" r="2.0"/><circle cx="273.2" cy="151.0" r="2.0"/><circle cx="276.7" cy="162.4" r="2.0"/><circle cx="263.8" cy="171.3" r="2.0"/><circle cx="287.6" cy="167.3" r="2.0"/><circle cx="274.7" cy="176.2" r="2.0"/><circle cx="163.0" cy="183.3" r="2.0"/><circle cx="165.4" cy="183.8" r="2.0"/><circle cx="169.4" cy="189.3" r="2.0"/><circle cx="174.4" cy="189.8" r="2.0"/><circle cx="178.8" cy="176.4" r="2.0"/><circle cx="182.3" cy="175.4" r="2.0"/><circle cx="183.3" cy="175.9" r="2.0"/><circle cx="184.3" cy="182.8" r="2.0"/><circle cx="187.2" cy="178.4" r="2.0"/><circle cx="188.7" cy="170.0" r="2.0"/><circle cx="189.7" cy="172.4" r="2.0"/><circle cx="191.7" cy="174.4" r="2.0"/><circle cx="193.2" cy="174.9" r="2.0"/><circle cx="195.6" cy="175.4" r="2.0"/><circle cx="197.1" cy="185.8" r="2.0"/><circle cx="205.0" cy="184.3" r="2.0"/><circle cx="206.5" cy="170.9" r="2.0"/><circle cx="208.5" cy="169.0" r="2.0"/><circle cx="209.5" cy="167.0" r="2.0"/><circle cx="210.5" cy="166.9" r="2.0"/><circle cx="213.5" cy="167.9" r="2.0"/><circle cx="218.4" cy="169.9" r="2.0"/><circle cx="226.3" cy="164.9" r="2.0"/><circle cx="225.3" cy="170.8" r="2.0"/><circle cx="227.3" cy="168.4" r="2.0"/><circle cx="232.8" cy="164.4" r="2.0"/><circle cx="236.7" cy="164.9" r="2.0"/><circle cx="240.2" cy="174.8" r="2.0"/><circle cx="240.7" cy="178.8" r="2.0"/><circle cx="249.6" cy="174.8" r="2.0"/><circle cx="250.6" cy="166.9" r="2.0"/><circle cx="252.1" cy="163.4" r="2.0"/><circle cx="253.6" cy="173.3" r="2.0"/><circle cx="255.5" cy="160.9" r="2.0"/><circle cx="257.0" cy="160.0" r="2.0"/><circle cx="258.5" cy="159.5" r="2.0"/><circle cx="256.5" cy="155.5" r="2.0"/><circle cx="259.5" cy="155.5" r="2.0"/><circle cx="223.9" cy="181.7" r="2.0"/><circle cx="284.2" cy="147.3" r="2.0"/><circle cx="284.9" cy="149.1" r="2.0"/><circle cx="281.6" cy="150.2" r="2.0"/><circle cx="278.7" cy="152.4" r="2.0"/><circle cx="274.4" cy="150.9" r="2.0"/><circle cx="285.6" cy="155.3" r="2.0"/><circle cx="289.3" cy="153.5" r="2.0"/><circle cx="291.5" cy="153.5" r="2.0"/><circle cx="294.7" cy="150.9" r="2.0"/><circle cx="296.5" cy="149.1" r="2.0"/><circle cx="298.4" cy="148.0" r="2.0"/><circle cx="300.9" cy="150.2" r="2.0"/><circle cx="304.5" cy="153.1" r="2.0"/><circle cx="307.5" cy="155.3" r="2.0"/><circle cx="289.3" cy="146.9" r="2.0"/><circle cx="98.5" cy="215.2" r="2.0"/><circle cx="95.5" cy="208.8" r="2.0"/><circle cx="104.4" cy="211.3" r="2.0"/><circle cx="105.9" cy="212.3" r="2.0"/><circle cx="111.8" cy="199.4" r="2.0"/><circle cx="116.3" cy="206.3" r="2.0"/><circle cx="118.3" cy="207.8" r="2.0"/><circle cx="121.2" cy="197.4" r="2.0"/><circle cx="130.1" cy="202.4" r="2.0"/><circle cx="134.1" cy="195.4" r="2.0"/><circle cx="138.1" cy="193.5" r="2.0"/><circle cx="141.5" cy="191.0" r="2.0"/></g>
<g fill="#f00"><circle cx="48.0" cy="214.8" r="2.0"/><circle cx="50.5" cy="213.3" r="2.0"/><circle cx="52.4" cy="212.3" r="2.0"/><circle cx="56.4" cy="211.3" r="2.0"/><circle cx="59.9" cy="211.8" r="2.0"/><circle cx="57.9" cy="212.3" r="2.0"/><circle cx="58.9" cy="219.8" r="2.0"/><circle cx="62.8" cy="218.3" r="2.0"/><circle cx="64.8" cy="216.3" r="2.0"/><circle cx="66.8" cy="213.8" r="2.0"/><circle cx="68.8" cy="216.3" r="2.0"/><circle cx="71.2" cy="215.3" r="2.0"/><circle cx="72.2" cy="220.2" r="2.0"/><circle cx="75.2" cy="211.8" r="2.0"/><circle cx="75.7" cy="216.8" r="2.0"/><circle cx="79.2" cy="207.4" r="2.0"/><circle cx="80.2" cy="215.8" r="2.0"/><circle cx="79.7" cy="219.3" r="2.0"/><circle cx="83.1" cy="211.3" r="2.0"/><circle cx="82.1" cy="215.8" r="2.0"/><circle cx="84.6" cy="217.8" r="2.0"/><circle cx="86.6" cy="212.8" r="2.0"/><circle cx="88.6" cy="214.8" r="2.0"/><circle cx="90.6" cy="216.8" r="2.0"/><circle cx="92.0" cy="211.8" r="2.0"/><circle cx="94.5" cy="210.3" r="2.0"/><circle cx="83.1" cy="218.8" r="2.0"/><circle cx="87.1" cy="218.8" r="2.0"/><circle cx="58.4" cy="219.9" r="2.0"/><circle cx="62.3" cy="218.4" r="2.0"/><circle cx="63.8" cy="222.9" r="2.0"/><circle cx="71.7" cy="220.9" r="2.0"/><circle cx="78.7" cy="218.9" r="2.0"/><circle cx="81.1" cy="215.4" r="2.0"/><circle cx="83.6" cy="211.5" r="2.0"/><circle cx="87.6" cy="215.9" r="2.0"/><circle cx="90.1" cy="216.9" r="2.0"/><circle cx="91.5" cy="212.0" r="2.0"/><circle cx="49.0" cy="225.3" r="2.0"/><circle cx="53.4" cy="225.8" r="2.0"/><circle cx="55.4" cy="226.3" r="2.0"/><circle cx="60.9" cy="225.8" r="2.0"/><circle cx="67.8" cy="226.3" r="2.0"/><circle cx="70.8" cy="226.3" r="2.0"/><circle cx="73.7" cy="226.3" r="2.0"/><circle cx="51.0" cy="225.5" r="2.0"/><circle cx="69.3" cy="226.3" r="2.0"/><circle cx="275.0" cy="180.0" r="2.0"/><circle cx="344.2" cy="154.2" r="2.0"/><circle cx="90.7" cy="216.7" r="2.0"/><circle cx="91.4" cy="210.3" r="2.0"/><circle cx="94.3" cy="210.3" r="2.0"/><circle cx="148.6" cy="202.4" r="2.0"/><circle cx="152.1" cy="199.6" r="2.0"/><circle cx="160.7" cy="200.3" r="2.0"/><circle cx="345.7" cy="174.3" r="2.0"/><circle cx="345.0" cy="167.1" r="2.0"/><circle cx="347.9" cy="166.4" r="2.0"/><circle cx="352.9" cy="167.9" r="2.0"/><circle cx="354.3" cy="169.3" r="2.0"/><circle cx="360.0" cy="165.7" r="2.0"/><circle cx="362.9" cy="168.6" r="2.0"/><circle cx="362.9" cy="172.9" r="2.0"/><circle cx="364.3" cy="175.7" r="2.0"/><circle cx="370.0" cy="164.3" r="2.0"/><circle cx="373.6" cy="163.6" r="2.0"/><circle cx="372.9" cy="167.9" r="2.0"/><circle cx="370.7" cy="175.7" r="2.0"/><circle cx="371.4" cy="177.9" r="2.0"/><circle cx="375.0" cy="172.9" r="2.0"/><circle cx="377.1" cy="175.0" r="2.0"/><circle cx="379.3" cy="176.4" r="2.0"/><circle cx="380.7" cy="178.6" r="2.0"/><circle cx="375.7" cy="182.1" r="2.0"/><circle cx="377.9" cy="164.3" r="2.0"/><circle cx="378.6" cy="167.1" r="2.0"/><circle cx="381.4" cy="160.0" r="2.0"/><circle cx="382.9" cy="157.9" r="2.0"/><circle cx="383.6" cy="159.3" r="2.0"/><circle cx="384.3" cy="163.6" r="2.0"/><circle cx="386.4" cy="165.0" r="2.0"/><circle cx="387.9" cy="166.4" r="2.0"/><circle cx="390.7" cy="163.6" r="2.0"/><circle cx="392.1" cy="158.6" r="2.0"/><circle cx="394.3" cy="159.3" r="2.0"/><circle cx="395.7" cy="163.6" r="2.0"/><circle cx="395.0" cy="165.7" r="2.0"/><circle cx="397.1" cy="163.6" r="2.0"/><circle cx="388.6" cy="172.9" r="2.0"/><circle cx="390.0" cy="175.0" r="2.0"/><circle cx="397.9" cy="172.9" r="2.0"/><circle cx="400.0" cy="180.0" r="2.0"/><circle cx="399.3" cy="182.9" r="2.0"/><circle cx="401.4" cy="164.3" r="2.0"/><circle cx="403.6" cy="165.7" r="2.0"/><circle cx="405.0" cy="160.7" r="2.0"/><circle cx="406.4" cy="162.9" r="2.0"/><circle cx="407.1" cy="171.4" r="2.0"/><circle cx="408.6" cy="174.3" r="2.0"/><circle cx="410.0" cy="175.7" r="2.0"/><circle cx="410.7" cy="180.0" r="2.0"/><circle cx="413.6" cy="161.4" r="2.0"/><circle cx="414.3" cy="164.3" r="2.0"/><circle cx="412.9" cy="167.1" r="2.0"/><circle cx="415.7" cy="168.6" r="2.0"/><circle cx="417.1" cy="166.4" r="2.0"/><circle cx="423.6" cy="167.9" r="2.0"/><circle cx="425.7" cy="172.1" r="2.0"/><circle cx="427.9" cy="177.1" r="2.0"/><circle cx="420.0" cy="183.6" r="2.0"/><circle cx="430.7" cy="183.3" r="2.0"/><circle cx="432.9" cy="182.9" r="2.0"/><circle cx="435.7" cy="180.7" r="2.0"/><circle cx="437.9" cy="182.9" r="2.0"/><circle cx="440.7" cy="185.7" r="2.0"/><circle cx="443.6" cy="186.4" r="2.0"/><circle cx="445.7" cy="185.0" r="2.0"/><circle cx="447.9" cy="182.1" r="2.0"/><circle cx="450.0" cy="177.1" r="2.0"/><circle cx="452.1" cy="182.9" r="2.0"/><circle cx="454.3" cy="192.1" r="2.0"/><circle cx="456.4" cy="192.1" r="2.0"/><circle cx="458.6" cy="194.3" r="2.0"/><circle cx="462.1" cy="193.6" r="2.0"/><circle cx="464.3" cy="196.4" r="2.0"/><circle cx="466.4" cy="197.1" r="2.0"/><circle cx="468.6" cy="187.1" r="2.0"/><circle cx="470.7" cy="195.0" r="2.0"/><circle cx="472.9" cy="194.3" r="2.0"/><circle cx="475.0" cy="197.9" r="2.0"/><circle cx="460.7" cy="198.6" r="2.0"/><circle cx="492.9" cy="195.7" r="2.0"/><circle cx="495.0" cy="197.9" r="2.0"/><circle cx="460.9" cy="200.0" r="2.0"/><circle cx="465.1" cy="196.4" r="2.0"/><circle cx="467.3" cy="197.1" r="2.0"/><circle cx="470.9" cy="195.7" r="2.0"/><circle cx="473.0" cy="195.0" r="2.0"/><circle cx="475.1" cy="198.6" r="2.0"/><circle cx="476.6" cy="204.3" r="2.0"/><circle cx="479.4" cy="203.6" r="2.0"/><circle cx="481.6" cy="202.1" r="2.0"/><circle cx="483.7" cy="201.1" r="2.0"/><circle cx="485.1" cy="200.7" r="2.0"/><circle cx="487.3" cy="206.4" r="2.0"/><circle cx="489.4" cy="206.4" r="2.0"/><circle cx="491.6" cy="206.9" r="2.0"/><circle cx="493.0" cy="195.7" r="2.0"/><circle cx="495.6" cy="199.3" r="2.0"/><circle cx="497.3" cy="205.0" r="2.0"/><circle cx="499.4" cy="206.4" r="2.0"/><circle cx="501.6" cy="207.9" r="2.0"/><circle cx="503.7" cy="203.6" r="2.0"/><circle cx="505.9" cy="206.4" r="2.0"/><circle cx="508.0" cy="207.1" r="2.0"/><circle cx="509.4" cy="205.0" r="2.0"/><circle cx="511.6" cy="211.4" r="2.0"/><circle cx="513.7" cy="207.1" r="2.0"/><circle cx="515.9" cy="200.0" r="2.0"/><circle cx="517.3" cy="205.7" r="2.0"/><circle cx="300.6" cy="158.9" r="2.0"/><circle cx="301.9" cy="159.5" r="2.0"/><circle cx="300.6" cy="162.7" r="2.0"/><circle cx="302.5" cy="165.3" r="2.0"/><circle cx="304.5" cy="167.2" r="2.0"/><circle cx="306.4" cy="169.1" r="2.0"/><circle cx="308.3" cy="169.7" r="2.0"/><circle cx="309.5" cy="172.9" r="2.0"/><circle cx="305.7" cy="158.3" r="2.0"/><circle cx="304.5" cy="162.1" r="2.0"/><circle cx="310.2" cy="179.3" r="2.0"/><circle cx="312.1" cy="181.8" r="2.0"/><circle cx="314.0" cy="182.4" r="2.0"/><circle cx="315.9" cy="181.8" r="2.0"/><circle cx="317.2" cy="178.0" r="2.0"/><circle cx="310.8" cy="183.1" r="2.0"/><circle cx="318.4" cy="169.7" r="2.0"/><circle cx="319.1" cy="172.3" r="2.0"/><circle cx="320.4" cy="165.9" r="2.0"/><circle cx="321.0" cy="161.5" r="2.0"/><circle cx="323.5" cy="170.4" r="2.0"/><circle cx="322.3" cy="159.5" r="2.0"/><circle cx="324.8" cy="157.6" r="2.0"/><circle cx="326.7" cy="163.4" r="2.0"/><circle cx="327.4" cy="155.1" r="2.0"/><circle cx="329.3" cy="153.8" r="2.0"/><circle cx="330.5" cy="156.4" r="2.0"/><circle cx="330.5" cy="169.1" r="2.0"/><circle cx="332.4" cy="158.9" r="2.0"/><circle cx="334.4" cy="151.9" r="2.0"/><circle cx="335.0" cy="155.1" r="2.0"/><circle cx="333.7" cy="161.5" r="2.0"/><circle cx="336.9" cy="158.9" r="2.0"/><circle cx="338.2" cy="165.3" r="2.0"/><circle cx="338.8" cy="156.4" r="2.0"/><circle cx="262.3" cy="163.9" r="2.0"/><circle cx="264.3" cy="168.3" r="2.0"/><circle cx="265.8" cy="167.8" r="2.0"/><circle cx="263.8" cy="169.8" r="2.0"/><circle cx="264.3" cy="174.3" r="2.0"/><circle cx="266.3" cy="162.9" r="2.0"/><circle cx="267.8" cy="159.4" r="2.0"/><circle cx="269.3" cy="159.4" r="2.0"/><circle cx="270.7" cy="160.9" r="2.0"/><circle cx="272.2" cy="161.9" r="2.0"/><circle cx="267.3" cy="164.4" r="2.0"/><circle cx="269.3" cy="164.9" r="2.0"/><circle cx="270.7" cy="165.3" r="2.0"/><circle cx="271.2" cy="170.8" r="2.0"/><circle cx="273.2" cy="171.3" r="2.0"/><circle cx="275.2" cy="169.8" r="2.0"/><circle cx="277.2" cy="169.3" r="2.0"/><circle cx="278.2" cy="162.4" r="2.0"/><circle cx="279.7" cy="161.4" r="2.0"/><circle cx="281.1" cy="160.4" r="2.0"/><circle cx="282.6" cy="159.9" r="2.0"/><circle cx="284.1" cy="159.4" r="2.0"/><circle cx="285.6" cy="159.9" r="2.0"/><circle cx="287.1" cy="160.4" r="2.0"/><circle cx="288.6" cy="159.9" r="2.0"/><circle cx="290.0" cy="159.4" r="2.0"/><circle cx="291.5" cy="160.9" r="2.0"/><circle cx="293.0" cy="159.4" r="2.0"/><circle cx="281.1" cy="162.9" r="2.0"/><circle cx="286.6" cy="169.3" r="2.0"/><circle cx="290.5" cy="166.3" r="2.0"/><circle cx="279.2" cy="175.7" r="2.0"/><circle cx="163.0" cy="185.8" r="2.0"/><circle cx="164.5" cy="184.8" r="2.0"/><circle cx="165.4" cy="186.3" r="2.0"/><circle cx="166.4" cy="187.8" r="2.0"/><circle cx="167.4" cy="189.8" r="2.0"/><circle cx="168.9" cy="191.2" r="2.0"/><circle cx="162.0" cy="188.8" r="2.0"/><circle cx="172.4" cy="191.7" r="2.0"/><circle cx="174.9" cy="185.3" r="2.0"/><circle cx="175.8" cy="182.8" r="2.0"/><circle cx="176.8" cy="179.9" r="2.0"/><circle cx="177.8" cy="177.9" r="2.0"/><circle cx="179.3" cy="176.9" r="2.0"/><circle cx="180.8" cy="177.4" r="2.0"/><circle cx="181.3" cy="179.4" r="2.0"/><circle cx="180.3" cy="184.8" r="2.0"/><circle cx="181.8" cy="181.3" r="2.0"/><circle cx="183.8" cy="185.8" r="2.0"/><circle cx="184.8" cy="187.3" r="2.0"/><circle cx="185.7" cy="189.3" r="2.0"/><circle cx="186.2" cy="191.2" r="2.0"/><circle cx="186.7" cy="179.9" r="2.0"/><circle cx="187.7" cy="182.3" r="2.0"/><circle cx="188.7" cy="179.9" r="2.0"/><circle cx="189.7" cy="176.9" r="2.0"/><circle cx="189.7" cy="174.9" r="2.0"/><circle cx="190.7" cy="182.8" r="2.0"/><circle cx="191.7" cy="178.9" r="2.0"/><circle cx="192.7" cy="177.9" r="2.0"/><circle cx="193.7" cy="179.9" r="2.0"/><circle cx="194.7" cy="181.8" r="2.0"/><circle cx="195.6" cy="183.3" r="2.0"/><circle cx="197.1" cy="184.8" r="2.0"/><circle cx="198.1" cy="185.8" r="2.0"/><circle cx="197.6" cy="188.3" r="2.0"/><circle cx="199.1" cy="184.3" r="2.0"/><circle cx="199.6" cy="186.8" r="2.0"/><circle cx="201.6" cy="190.7" r="2.0"/><circle cx="203.6" cy="190.2" r="2.0"/><circle cx="205.0" cy="182.3" r="2.0"/><circle cx="206.0" cy="179.9" r="2.0"/><circle cx="207.0" cy="177.9" r="2.0"/><circle cx="208.0" cy="175.9" r="2.0"/><circle cx="209.5" cy="172.9" r="2.0"/><circle cx="211.0" cy="169.9" r="2.0"/><circle cx="212.5" cy="171.3" r="2.0"/><circle cx="214.0" cy="172.8" r="2.0"/><circle cx="215.0" cy="174.8" r="2.0"/><circle cx="213.5" cy="176.3" r="2.0"/><circle cx="215.4" cy="177.3" r="2.0"/><circle cx="216.9" cy="173.3" r="2.0"/><circle cx="217.9" cy="175.3" r="2.0"/><circle cx="218.9" cy="177.8" r="2.0"/><circle cx="219.9" cy="179.3" r="2.0"/><circle cx="224.9" cy="173.3" r="2.0"/><circle cx="225.8" cy="175.3" r="2.0"/><circle cx="227.3" cy="172.3" r="2.0"/><circle cx="228.8" cy="171.3" r="2.0"/><circle cx="230.3" cy="169.9" r="2.0"/><circle cx="231.8" cy="168.4" r="2.0"/><circle cx="233.3" cy="166.9" r="2.0"/><circle cx="234.8" cy="162.4" r="2.0"/><circle cx="234.8" cy="167.9" r="2.0"/><circle cx="236.2" cy="168.9" r="2.0"/><circle cx="237.7" cy="170.3" r="2.0"/><circle cx="239.2" cy="171.8" r="2.0"/><circle cx="240.2" cy="173.3" r="2.0"/><circle cx="240.7" cy="180.7" r="2.0"/><circle cx="249.1" cy="178.8" r="2.0"/><circle cx="250.6" cy="177.3" r="2.0"/><circle cx="252.6" cy="178.3" r="2.0"/><circle cx="250.1" cy="172.3" r="2.0"/><circle cx="251.6" cy="169.9" r="2.0"/><circle cx="253.1" cy="168.4" r="2.0"/><circle cx="254.6" cy="166.9" r="2.0"/><circle cx="256.0" cy="165.4" r="2.0"/><circle cx="257.5" cy="164.4" r="2.0"/><circle cx="259.0" cy="162.9" r="2.0"/><circle cx="260.5" cy="161.9" r="2.0"/><circle cx="255.5" cy="169.4" r="2.0"/><circle cx="257.0" cy="167.9" r="2.0"/><circle cx="258.5" cy="166.4" r="2.0"/><circle cx="251.6" cy="174.8" r="2.0"/><circle cx="295.1" cy="155.6" r="2.0"/><circle cx="299.1" cy="154.2" r="2.0"/><circle cx="421.6" cy="190.4" r="2.0"/><circle cx="434.0" cy="193.0" r="2.0"/><circle cx="96.0" cy="209.8" r="2.0"/><circle cx="97.5" cy="210.8" r="2.0"/><circle cx="98.5" cy="208.8" r="2.0"/><circle cx="100.0" cy="207.3" r="2.0"/><circle cx="101.4" cy="205.8" r="2.0"/><circle cx="102.9" cy="206.8" r="2.0"/><circle cx="104.4" cy="207.8" r="2.0"/><circle cx="105.9" cy="207.3" r="2.0"/><circle cx="107.4" cy="205.8" r="2.0"/><circle cx="108.9" cy="204.9" r="2.0"/><circle cx="110.3" cy="202.4" r="2.0"/><circle cx="111.8" cy="200.4" r="2.0"/><circle cx="113.3" cy="201.4" r="2.0"/><circle cx="114.8" cy="202.4" r="2.0"/><circle cx="116.3" cy="203.4" r="2.0"/><circle cx="117.8" cy="204.9" r="2.0"/><circle cx="119.3" cy="203.9" r="2.0"/><circle cx="120.2" cy="200.9" r="2.0"/><circle cx="121.2" cy="198.9" r="2.0"/><circle cx="122.7" cy="196.9" r="2.0"/><circle cx="123.7" cy="195.9" r="2.0"/><circle cx="125.2" cy="197.9" r="2.0"/><circle cx="126.2" cy="199.9" r="2.0"/><circle cx="125.2" cy="203.9" r="2.0"/><circle cx="127.2" cy="197.9" r="2.0"/><circle cx="128.7" cy="196.4" r="2.0"/><circle cx="130.1" cy="196.9" r="2.0"/><circle cx="131.1" cy="198.9" r="2.0"/><circle cx="132.6" cy="200.4" r="2.0"/><circle cx="134.1" cy="199.9" r="2.0"/><circle cx="135.1" cy="198.9" r="2.0"/><circle cx="135.6" cy="192.0" r="2.0"/><circle cx="137.1" cy="190.5" r="2.0"/><circle cx="139.1" cy="195.0" r="2.0"/><circle cx="140.5" cy="195.9" r="2.0"/><circle cx="141.5" cy="197.4" r="2.0"/><circle cx="142.5" cy="192.0" r="2.0"/><circle cx="144.5" cy="193.0" r="2.0"/><circle cx="146.0" cy="195.9" r="2.0"/><circle cx="107.4" cy="213.8" r="2.0"/><circle cx="112.0" cy="203.0" r="2.0"/><circle cx="114.0" cy="204.5" r="2.0"/><circle cx="116.0" cy="205.5" r="2.0"/><circle cx="110.0" cy="205.0" r="2.0"/><circle cx="119.5" cy="202.0" r="2.0"/><circle cx="121.0" cy="201.0" r="2.0"/><circle cx="123.0" cy="199.5" r="2.0"/><circle cx="126.0" cy="201.5" r="2.0"/><circle cx="128.0" cy="199.5" r="2.0"/><circle cx="130.0" cy="199.0" r="2.0"/><circle cx="133.0" cy="202.0" r="2.0"/><circle cx="136.0" cy="197.0" r="2.0"/><circle cx="138.0" cy="196.0" r="2.0"/><circle cx="143.0" cy="195.5" r="2.0"/><circle cx="145.0" cy="197.0" r="2.0"/><circle cx="99.5" cy="210.0" r="2.0"/><circle cx="103.0" cy="209.0" r="2.0"/><circle cx="106.0" cy="209.5" r="2.0"/><circle cx="147.9" cy="198.6" r="2.0"/><circle cx="148.2" cy="200.5" r="2.0"/><circle cx="149.3" cy="202.1" r="2.0"/><circle cx="150.5" cy="201.1" r="2.0"/><circle cx="151.4" cy="199.3" r="2.0"/><circle cx="153.6" cy="191.4" r="2.0"/><circle cx="154.6" cy="189.6" r="2.0"/><circle cx="154.9" cy="188.2" r="2.0"/><circle cx="155.7" cy="186.4" r="2.0"/><circle cx="156.0" cy="188.5" r="2.0"/><circle cx="157.1" cy="190.7" r="2.0"/><circle cx="157.6" cy="191.8" r="2.0"/><circle cx="158.6" cy="193.6" r="2.0"/><circle cx="158.9" cy="195.7" r="2.0"/><circle cx="159.7" cy="197.2" r="2.0"/><circle cx="160.7" cy="199.3" r="2.0"/><circle cx="161.1" cy="197.7" r="2.0"/><circle cx="161.3" cy="195.5" r="2.0"/><circle cx="162.1" cy="193.6" r="2.0"/><circle cx="168.6" cy="192.1" r="2.0"/><circle cx="170.0" cy="194.3" r="2.0"/><circle cx="172.1" cy="195.0" r="2.0"/><circle cx="173.2" cy="194.3" r="2.0"/><circle cx="174.3" cy="192.9" r="2.0"/><circle cx="200.0" cy="192.1" r="2.0"/><circle cx="202.1" cy="192.9" r="2.0"/><circle cx="220.0" cy="187.9" r="2.0"/><circle cx="222.1" cy="187.9" r="2.0"/><circle cx="223.1" cy="189.6" r="2.0"/><circle cx="223.6" cy="190.7" r="2.0"/><circle cx="222.7" cy="191.7" r="2.0"/><circle cx="222.1" cy="192.9" r="2.0"/><circle cx="297.1" cy="159.3" r="2.0"/><circle cx="340.0" cy="157.1" r="2.0"/><circle cx="340.6" cy="159.2" r="2.0"/><circle cx="341.4" cy="160.7" r="2.0"/><circle cx="342.9" cy="155.7" r="2.0"/><circle cx="344.3" cy="155.0" r="2.0"/><circle cx="345.7" cy="166.4" r="2.0"/><circle cx="346.8" cy="164.0" r="2.0"/><circle cx="347.1" cy="162.1" r="2.0"/><circle cx="347.6" cy="164.0" r="2.0"/><circle cx="348.6" cy="166.4" r="2.0"/><circle cx="345.7" cy="174.3" r="2.0"/><circle cx="349.3" cy="157.9" r="2.0"/><circle cx="351.4" cy="158.6" r="2.0"/><circle cx="353.6" cy="167.9" r="2.0"/><circle cx="354.3" cy="170.0" r="2.0"/><circle cx="355.0" cy="157.9" r="2.0"/><circle cx="357.1" cy="157.1" r="2.0"/><circle cx="358.6" cy="158.6" r="2.0"/><circle cx="358.7" cy="161.1" r="2.0"/><circle cx="359.3" cy="163.6" r="2.0"/><circle cx="360.7" cy="162.9" r="2.0"/><circle cx="361.4" cy="165.0" r="2.0"/><circle cx="362.2" cy="166.6" r="2.0"/><circle cx="362.9" cy="168.6" r="2.0"/><circle cx="362.1" cy="172.9" r="2.0"/><circle cx="364.3" cy="173.6" r="2.0"/><circle cx="364.6" cy="174.9" r="2.0"/><circle cx="365.7" cy="176.4" r="2.0"/><circle cx="367.1" cy="160.0" r="2.0"/><circle cx="366.6" cy="162.2" r="2.0"/><circle cx="366.4" cy="164.3" r="2.0"/><circle cx="368.6" cy="164.3" r="2.0"/><circle cx="369.7" cy="166.6" r="2.0"/><circle cx="370.0" cy="168.6" r="2.0"/><circle cx="370.7" cy="175.0" r="2.0"/><circle cx="372.1" cy="177.1" r="2.0"/><circle cx="373.6" cy="164.3" r="2.0"/><circle cx="373.3" cy="166.2" r="2.0"/><circle cx="372.9" cy="167.9" r="2.0"/></g>
<line x1="283.5" y1="146.2" x2="283.5" y2="132.3" stroke="#000" stroke-width="0.95"/><line x1="289.5" y1="146.2" x2="289.5" y2="132.3" stroke="#777" stroke-width="0.76"/><line x1="290.5" y1="146.2" x2="290.5" y2="132.3" stroke="#999" stroke-width="0.76"/><line x1="291.5" y1="146.2" x2="291.5" y2="132.3" stroke="#666" stroke-width="0.76"/><line x1="292.5" y1="146.2" x2="292.5" y2="132.3" stroke="#999" stroke-width="0.76"/><line x1="293.5" y1="146.2" x2="293.5" y2="132.3" stroke="#777" stroke-width="0.76"/><line x1="296.5" y1="146.2" x2="296.5" y2="132.3" stroke="#888" stroke-width="0.76"/><line x1="297.5" y1="146.2" x2="297.5" y2="132.3" stroke="#777" stroke-width="0.76"/><line x1="321.5" y1="146.3" x2="321.5" y2="132.3" stroke="#000" stroke-width="0.95"/><line x1="322.5" y1="146.3" x2="322.5" y2="132.3" stroke="#000" stroke-width="0.95"/><line x1="323.5" y1="146.3" x2="323.5" y2="132.3" stroke="#000" stroke-width="0.95"/><line x1="324.5" y1="146.3" x2="324.5" y2="132.3" stroke="#000" stroke-width="0.95"/><line x1="327.5" y1="146.3" x2="327.5" y2="132.3" stroke="#000" stroke-width="0.95"/><line x1="328.5" y1="146.3" x2="328.5" y2="132.3" stroke="#000" stroke-width="0.95"/><line x1="329.5" y1="146.3" x2="329.5" y2="132.3" stroke="#000" stroke-width="0.95"/><circle cx="283.1" cy="146.2" r="2.0" fill="#000" stroke="#000" stroke-width="0.8"/><circle cx="291.5" cy="146.2" r="2.0" fill="#fff" stroke="#000" stroke-width="0.8"/><circle cx="296.9" cy="146.2" r="2.0" fill="#fff" stroke="#000" stroke-width="0.8"/><circle cx="321.2" cy="146.3" r="2.0" fill="#fff" stroke="#000" stroke-width="0.8"/><circle cx="322.2" cy="146.3" r="2.0" fill="#000" stroke="#000" stroke-width="0.8"/><circle cx="323.2" cy="146.3" r="2.0" fill="#000" stroke="#000" stroke-width="0.8"/><circle cx="324.4" cy="146.3" r="2.0" fill="#fff" stroke="#000" stroke-width="0.8"/><circle cx="325.2" cy="146.3" r="2.0" fill="#000" stroke="#000" stroke-width="0.8"/><circle cx="327.4" cy="146.3" r="2.0" fill="#fff" stroke="#000" stroke-width="0.8"/><circle cx="328.6" cy="146.3" r="2.0" fill="#000" stroke="#000" stroke-width="0.8"/><circle cx="329.9" cy="146.3" r="2.0" fill="#fff" stroke="#000" stroke-width="0.8"/>
</g>
<g fill="none" stroke="#aaaaaa" stroke-width="1"><rect x="46.4" y="22.7" width="471.6" height="211.7"/></g><line x1="46.4" y1="128.5" x2="518.0" y2="128.5" stroke="#999" stroke-width="1.1"/>
<g stroke="#000" stroke-width="1.7"><line x1="42.90" y1="128.50" x2="46.40" y2="128.50"/><line x1="42.90" y1="110.87" x2="46.40" y2="110.87"/><line x1="42.90" y1="93.23" x2="46.40" y2="93.23"/><line x1="42.90" y1="75.60" x2="46.40" y2="75.60"/><line x1="42.90" y1="57.97" x2="46.40" y2="57.97"/><line x1="42.90" y1="40.33" x2="46.40" y2="40.33"/><line x1="42.90" y1="234.40" x2="46.40" y2="234.40"/><line x1="42.90" y1="216.75" x2="46.40" y2="216.75"/><line x1="42.90" y1="199.10" x2="46.40" y2="199.10"/><line x1="42.90" y1="181.45" x2="46.40" y2="181.45"/><line x1="42.90" y1="163.80" x2="46.40" y2="163.80"/><line x1="42.90" y1="146.15" x2="46.40" y2="146.15"/><line x1="77.49" y1="234.40" x2="77.49" y2="237.90"/><line x1="108.91" y1="234.40" x2="108.91" y2="237.90"/><line x1="211.18" y1="234.40" x2="211.18" y2="237.90"/><line x1="313.45" y1="234.40" x2="313.45" y2="237.90"/><line x1="415.73" y1="234.40" x2="415.73" y2="237.90"/><line x1="518.00" y1="234.40" x2="518.00" y2="237.90"/></g>
<line x1="518.3" y1="128.5" x2="518.3" y2="132.0" stroke="#000" stroke-width="0.9"/>
<g font-family="DejaVu Sans" font-size="12.6" fill="#000"><text x="38.50" y="133.10" text-anchor="end">0</text><text x="38.50" y="115.47" text-anchor="end">2</text><text x="38.50" y="97.83" text-anchor="end">4</text><text x="38.50" y="80.20" text-anchor="end">6</text><text x="38.50" y="62.57" text-anchor="end">8</text><text x="38.50" y="44.93" text-anchor="end">10</text><text x="38.50" y="239.00" text-anchor="end">0</text><text x="38.50" y="221.35" text-anchor="end">2</text><text x="38.50" y="203.70" text-anchor="end">4</text><text x="38.50" y="186.05" text-anchor="end">6</text><text x="38.50" y="168.40" text-anchor="end">8</text><text x="38.50" y="150.75" text-anchor="end">10</text><text x="108.91" y="251.80" text-anchor="middle">5</text><text x="211.18" y="251.80" text-anchor="middle">10</text><text x="313.45" y="251.80" text-anchor="middle">15</text><text x="415.73" y="251.80" text-anchor="middle">20</text><text x="518.00" y="251.80" text-anchor="middle">25</text></g>
<g font-family="DejaVu Sans" font-size="11.6"><text x="66.2" y="251.7">2</text><text x="80.6" y="251.7">3</text><text transform="translate(72.3,251.9) scale(0.88,1)" font-size="12.9">√</text><line x1="78.6" y1="241.75" x2="87.6" y2="241.75" stroke="#000" stroke-width="0.8"/></g>
<g font-family="DejaVu Sans" font-size="15" fill="#000"><text x="49" y="36.1" font-style="italic">α</text><text x="64.5" y="36.1" font-weight="bold">Cen A</text><text x="49" y="141.9" font-style="italic">α</text><text x="64.5" y="141.9" font-weight="bold">Cen B</text><text x="513.0" y="36.3" font-weight="bold" font-size="14.8" text-anchor="end">a - 4 pl</text><text x="513.0" y="141.8" font-weight="bold" font-size="14.8" text-anchor="end">b - 6 pl</text></g>
<text x="512.9" y="12.7" font-family="DejaVu Sans" font-weight="bold" font-size="15.1" fill="#008000" text-anchor="end">eccentric</text>
<text x="283.0" y="270.7" font-family="DejaVu Sans" font-size="18" text-anchor="middle"><tspan font-style="italic">β</tspan> (mutual Hill radii)</text>
<text transform="translate(15.1,126.5) rotate(-90)" font-family="DejaVu Sans" font-size="18" text-anchor="middle">log <tspan font-style="italic">t</tspan> (yr)</text>
<rect x="368.8" y="98.8" width="142.8" height="23.3" rx="2" fill="#fff" fill-opacity="0.8" stroke="#dcdcdc" stroke-width="0.8"/>
<circle cx="385.9" cy="109" r="3.2" fill="#000"/><circle cx="470.6" cy="109" r="3.2" fill="#f00"/>
<g font-family="DejaVu Sans" font-size="12.5"><text x="408.5" y="113" font-style="italic">r</text><text x="414" y="115.2" font-size="8.7">emp</text><text x="493" y="113" font-style="italic">r</text><text x="499.5" y="114.8" font-size="9">⊕</text></g>
</g></svg></div></body></html>
